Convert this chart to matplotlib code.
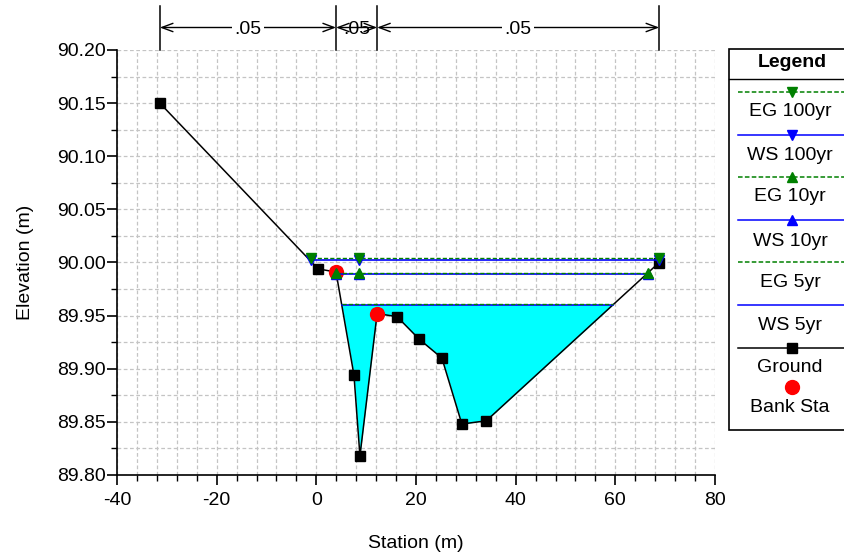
import matplotlib
matplotlib.use("Agg")
import matplotlib.pyplot as plt
import numpy as np
from matplotlib.lines import Line2D
from matplotlib.patches import Rectangle
from matplotlib.ticker import MultipleLocator, FormatStrFormatter
import matplotlib.transforms as mtransforms

plt.rcParams['font.family'] = ['Liberation Sans', 'DejaVu Sans']
plt.rcParams['axes.unicode_minus'] = False

# ---------------- data ----------------
ground_x = [-31.4, 0.35, 3.95, 7.55, 8.75, 12.2, 16.2, 20.6, 25.2, 29.2, 34.1, 68.8]
ground_y = [90.150, 89.994, 89.991, 89.894, 89.818, 89.952, 89.949, 89.928, 89.910, 89.848, 89.851, 90.000]

bank_x = [3.95, 12.2]
bank_y = [89.991, 89.952]

eg100_x = [-1.1, 8.6, 68.8]
eg100_y = [90.004, 90.004, 90.004]
ws100_x = [-1.1, 8.6, 68.8]
ws100_y = [90.002, 90.002, 90.002]
eg10_x = [3.95, 8.6, 66.5]
eg10_y = [89.990, 89.990, 89.990]
ws10_x = [3.95, 8.6, 66.5]
ws10_y = [89.989, 89.989, 89.989]
eg5_x = [5.2, 59.5]
eg5_y = [89.961, 89.961]
ws5_x = [5.2, 59.5]
ws5_y = [89.960, 89.960]

rough_x = [-31.4, 3.95, 12.2, 68.8]
rough_labels = ['.05', '.05', '.05']

FS = 14

# ---------------- figure ----------------
W, H = 845, 552
fig = plt.figure(figsize=(W / 100, H / 100), dpi=100)
ax = fig.add_axes([117 / W, 1 - 475 / H, 598 / W, 425 / H])

ax.set_xlim(-40, 80)
ax.set_ylim(89.80, 90.20)
ax.xaxis.set_major_locator(MultipleLocator(20))
ax.xaxis.set_minor_locator(MultipleLocator(4))
ax.yaxis.set_major_locator(MultipleLocator(0.05))
ax.yaxis.set_minor_locator(MultipleLocator(0.025))
ax.yaxis.set_major_formatter(FormatStrFormatter('%.2f'))
ax.grid(True, which='both', color='#c4c4c4', linestyle=(0, (3, 2)), linewidth=0.9)
ax.set_axisbelow(True)
for s in ['top', 'right']:
    ax.spines[s].set_visible(False)
ax.spines['left'].set_linewidth(1.2)
ax.spines['bottom'].set_linewidth(1.2)
ax.tick_params(which='major', direction='out', length=7, width=1.2, labelsize=FS)
ax.tick_params(axis='x', which='major', pad=5)
ax.tick_params(axis='y', which='major', pad=1)
ax.tick_params(which='minor', direction='out', length=4.5, width=1.0)

ax.set_xlabel('Station (m)', fontsize=FS, labelpad=19)
ax.set_ylabel('Elevation (m)', fontsize=FS, labelpad=17)

# water fill (5yr)
gx = np.array(ground_x)
gy = np.array(ground_y)
ws5 = ws5_y[0]
ax.fill_between(gx, gy, ws5, where=(gy < ws5) & (gx > 3), interpolate=True,
                color='#00ffff', linewidth=0, zorder=2)

green = '#008000'
blue = '#0000ff'

ax.plot(ground_x, ground_y, color='black', linewidth=1.1, marker='s', markersize=6.5,
        markerfacecolor='black', markeredgecolor='black', zorder=5)
ax.plot(bank_x, bank_y, linestyle='none', marker='o', markersize=10,
        markerfacecolor='red', markeredgecolor='red', zorder=6)

ax.plot(ws100_x, ws100_y, color=blue, linewidth=1.2,
        marker='v', markersize=7, markerfacecolor=blue, markeredgecolor=blue, zorder=7)
ax.plot(eg100_x, eg100_y, color=green, linestyle=(0, (3, 1.5)), linewidth=1.0,
        marker='v', markersize=7, markerfacecolor=green, markeredgecolor=green, zorder=7)
ax.plot(ws10_x, ws10_y, color=blue, linewidth=1.2,
        marker='^', markersize=7, markerfacecolor=blue, markeredgecolor=blue, zorder=7)
ax.plot(eg10_x, eg10_y, color=green, linestyle=(0, (3, 1.5)), linewidth=1.0,
        marker='^', markersize=7, markerfacecolor=green, markeredgecolor=green, zorder=7)
ax.plot(ws5_x, ws5_y, color=blue, linewidth=1.2, zorder=7)
ax.plot(eg5_x, eg5_y, color=green, linestyle=(0, (3, 1.5)), linewidth=1.0, zorder=7)

# roughness annotations above the plot
trans = mtransforms.blended_transform_factory(ax.transData, ax.transAxes)
y_top = 1 + 44 / 425
y_arr = 1 + 22.5 / 425
for xv in rough_x:
    ax.plot([xv, xv], [1.0, y_top], transform=trans, color='black', linewidth=1.1,
            clip_on=False, zorder=8)
for i, lab in enumerate(rough_labels):
    x0, x1 = rough_x[i], rough_x[i + 1]
    ax.annotate('', xy=(x0, y_arr), xytext=(x1, y_arr), xycoords=trans, textcoords=trans,
                arrowprops=dict(arrowstyle='<->,head_length=0.8,head_width=0.3',
                                color='black', linewidth=1.0, shrinkA=0, shrinkB=0),
                annotation_clip=False, zorder=8)
    ax.text((x0 + x1) / 2, y_arr - 0.004, lab, transform=trans, ha='center', va='center',
            fontsize=FS, zorder=9, clip_on=False,
            bbox=dict(facecolor='white', edgecolor='none', pad=1.5) if (x1 - x0) > 15 else None)

# ---------------- legend (custom) ----------------
def fx(px):
    return px / W

def fy(py):
    return 1 - py / H

tf = fig.transFigure
fig.patches.append(Rectangle((fx(729), fy(430)), fx(130), (430 - 49) / H, transform=tf,
                             facecolor='white', edgecolor='black', linewidth=1.2))
fig.lines.append(Line2D([fx(729), fx(850)], [fy(79), fy(79)], transform=tf, color='black', linewidth=1.0))
fig.text(fx(792), fy(62), 'Legend', ha='center', va='center', fontsize=FS, fontweight='bold')

entries = [
    ('EG 100yr', green, (0, (3, 1.5)), 'v', 92, 112),
    ('WS 100yr', blue, '-', 'v', 135, 155),
    ('EG 10yr', green, (0, (3, 1.5)), '^', 177, 197),
    ('WS 10yr', blue, '-', '^', 220, 241),
    ('EG 5yr', green, (0, (3, 1.5)), None, 262, 283),
    ('WS 5yr', blue, '-', None, 305, 326),
    ('Ground', 'black', '-', 's', 348, 367),
]
for lab, col, ls, mk, ly, ty in entries:
    fig.lines.append(Line2D([fx(738), fx(845)], [fy(ly), fy(ly)], transform=tf, color=col,
                            linestyle=ls, linewidth=1.1))
    if mk:
        fig.lines.append(Line2D([fx(792)], [fy(ly)], transform=tf, marker=mk, markersize=7 if mk != 's' else 6.5,
                                color=col, markerfacecolor=col, markeredgecolor=col, linestyle='none'))
    fig.text(fx(790), fy(ty), lab, ha='center', va='center', fontsize=FS)

fig.lines.append(Line2D([fx(792)], [fy(387)], transform=tf, marker='o', markersize=10,
                        markerfacecolor='red', markeredgecolor='red', linestyle='none'))
fig.text(fx(790), fy(408), 'Bank Sta', ha='center', va='center', fontsize=FS)

fig.savefig('out.png', dpi=100)
